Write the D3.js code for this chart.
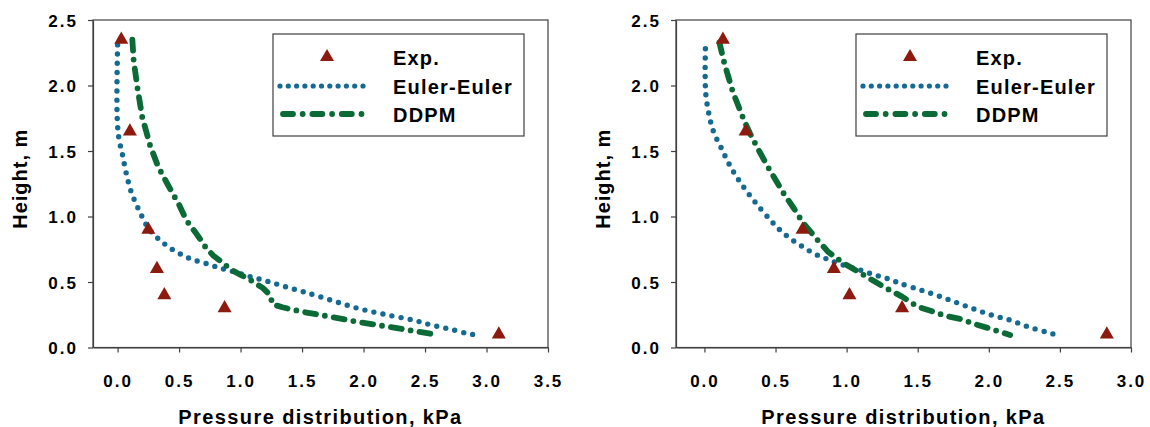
<!DOCTYPE html>
<html>
<head>
<meta charset="utf-8">
<script src="https://cdn.jsdelivr.net/npm/d3@7"></script>
<style>
  body { margin: 0; background: #fff; }
  svg { display: block; }
  text { font-family: "Liberation Sans", Arial, sans-serif; font-weight: bold; fill: #000; }
</style>
</head>
<body>
<svg id="chart" width="1150" height="427"></svg>
<script>
// ---- data -------------------------------------------------------------
const heightTicks = [0, 0.5, 1.0, 1.5, 2.0, 2.5];
const pressureTicksA = [0, 0.5, 1.0, 1.5, 2.0, 2.5, 3.0, 3.5];
const pressureTicksB = [0, 0.5, 1.0, 1.5, 2.0, 2.5, 3.0];
const seriesNames = ["Exp.", "Euler-Euler", "DDPM"];
const xTitle = "Pressure distribution, kPa";
const yTitle = "Height, m";

// measured points (height, m)
const expHeight = [2.35, 1.65, 0.9, 0.6, 0.4, 0.3, 0.1];
const expPressureA = [0.03, 0.10, 0.25, 0.32, 0.38, 0.87, 3.10];
const expPressureB = [0.13, 0.29, 0.69, 0.91, 1.02, 1.39, 2.83];

// Euler-Euler simulation, case A: [pressure, height]
const eulerA = [
  [0.00, 2.31], [-0.005, 2.00], [-0.003, 1.75], [0.01, 1.60], [0.04, 1.47],
  [0.07, 1.33], [0.11, 1.19], [0.17, 1.055], [0.21, 0.98], [0.25, 0.91],
  [0.32, 0.84], [0.39, 0.785], [0.46, 0.74], [0.54, 0.70], [0.61, 0.67],
  [0.69, 0.65], [0.77, 0.625], [0.84, 0.605], [0.92, 0.585], [1.06, 0.546],
  [1.21, 0.508], [1.36, 0.465], [1.51, 0.426], [1.73, 0.363], [1.95, 0.30],
  [2.17, 0.253], [2.40, 0.21], [2.55, 0.172], [2.70, 0.141], [2.84, 0.108],
  [2.92, 0.095]
];
// DDPM simulation, case A
const ddpmA = [
  [0.12, 2.35], [0.13, 2.20], [0.16, 1.99], [0.20, 1.76], [0.265, 1.54],
  [0.33, 1.38], [0.41, 1.24], [0.50, 1.09], [0.56, 0.97], [0.64, 0.87],
  [0.72, 0.76], [0.78, 0.70], [0.85, 0.65], [0.93, 0.59], [1.01, 0.55],
  [1.08, 0.515], [1.18, 0.455], [1.24, 0.40], [1.26, 0.33], [1.34, 0.307],
  [1.50, 0.273], [1.73, 0.235], [1.97, 0.192], [2.20, 0.159], [2.44, 0.121],
  [2.61, 0.095]
];
// Euler-Euler simulation, case B
const eulerB = [
  [0.007, 2.28], [0.005, 2.10], [0.01, 1.93], [0.03, 1.79], [0.063, 1.65],
  [0.122, 1.515], [0.187, 1.373], [0.27, 1.233], [0.368, 1.095], [0.478, 0.956],
  [0.539, 0.889], [0.604, 0.831], [0.672, 0.782], [0.735, 0.739], [0.796, 0.704],
  [0.86, 0.676], [0.925, 0.648], [1.053, 0.604], [1.117, 0.584], [1.183, 0.559],
  [1.25, 0.538], [1.316, 0.515], [1.374, 0.49], [1.506, 0.444], [1.636, 0.398],
  [1.763, 0.347], [1.889, 0.296], [2.018, 0.248], [2.147, 0.21], [2.275, 0.159],
  [2.404, 0.118], [2.47, 0.098]
];
// DDPM simulation, case B
const ddpmB = [
  [0.105, 2.33], [0.14, 2.17], [0.20, 1.95], [0.28, 1.73], [0.32, 1.635],
  [0.38, 1.51], [0.44, 1.39], [0.50, 1.28], [0.555, 1.18], [0.63, 1.06],
  [0.695, 0.95], [0.78, 0.84], [0.87, 0.73], [0.98, 0.643], [1.08, 0.579],
  [1.18, 0.515], [1.28, 0.452], [1.39, 0.388], [1.50, 0.311], [1.59, 0.281],
  [1.70, 0.24], [1.81, 0.215], [1.90, 0.179], [2.00, 0.147], [2.15, 0.095]
];

// ---- styling ----------------------------------------------------------
const colExp = "#8c1a0f";
const colEuler = "#156a92";
const colDdpm = "#0b6a36";
const axisCol = "#404040";

const svg = d3.select("#chart");

const panels = [
  { x0: 93, x1: 548, xMax: 3.5, ticks: pressureTicksA, exp: expPressureA, euler: eulerA, ddpm: ddpmA, legendX: 273 },
  { x0: 676, x1: 1131, xMax: 3.0, ticks: pressureTicksB, exp: expPressureB, euler: eulerB, ddpm: ddpmB, legendX: 856 }
];

const yTop = 20, yBottom = 347.5;
const y = d3.scaleLinear().domain([0, 2.5]).range([yBottom, yTop]);
const fmt = d3.format(".1f");

panels.forEach(p => {
  const x = d3.scaleLinear().domain([-0.2, p.xMax]).range([p.x0, p.x1]);
  const g = svg.append("g");

  // frame
  g.append("rect")
    .attr("x", p.x0).attr("y", yTop)
    .attr("width", p.x1 - p.x0).attr("height", yBottom - yTop)
    .attr("fill", "none").attr("stroke", axisCol).attr("stroke-width", 1.2);

  // y axis
  const ya = g.append("g").attr("transform", `translate(${p.x0},0)`)
    .call(d3.axisLeft(y).tickValues(heightTicks).tickFormat(fmt).tickSize(5).tickSizeOuter(0).tickPadding(10));
  ya.select(".domain").attr("stroke", axisCol).attr("stroke-width", 1.2);
  ya.selectAll(".tick line").attr("stroke", axisCol).attr("stroke-width", 1.2);
  ya.selectAll(".tick text")
    .style("font-family", '"Liberation Sans", Arial, sans-serif')
    .style("font-weight", "bold").style("font-size", "17px")
    .style("letter-spacing", "2px").attr("fill", "#000").attr("dy", "0.36em");

  // x axis
  const xa = g.append("g").attr("transform", `translate(0,${yBottom})`)
    .call(d3.axisBottom(x).tickValues(p.ticks).tickFormat(fmt).tickSize(5).tickSizeOuter(0));
  xa.select(".domain").attr("stroke", axisCol).attr("stroke-width", 1.2);
  xa.selectAll(".tick line").attr("stroke", axisCol).attr("stroke-width", 1.2);
  xa.selectAll(".tick text")
    .style("font-family", '"Liberation Sans", Arial, sans-serif')
    .style("font-weight", "bold").style("font-size", "17px")
    .style("letter-spacing", "2px").attr("fill", "#000")
    .attr("y", 39.5).attr("dy", 0);

  // axis titles
  g.append("text")
    .attr("x", (p.x0 + p.x1) / 2).attr("y", 424)
    .attr("text-anchor", "middle")
    .style("font-size", "20px").style("letter-spacing", "1.4px")
    .text(xTitle);
  g.append("text")
    .attr("transform", `translate(${p.x0 - 66},${(yTop + yBottom) / 2 - 5}) rotate(-90)`)
    .attr("text-anchor", "middle")
    .style("font-size", "20px").style("letter-spacing", "1px")
    .text(yTitle);

  // simulation curves
  const lineFor = curve => d3.line().x(d => x(d[0])).y(d => y(d[1])).curve(curve);

  g.append("path").datum(p.euler)
    .attr("d", lineFor(d3.curveCatmullRom.alpha(0.5)))
    .attr("fill", "none").attr("stroke", colEuler).attr("stroke-width", 5.4)
    .attr("stroke-linecap", "round").attr("stroke-dasharray", "0 9.2");

  g.append("path").datum(p.ddpm)
    .attr("d", lineFor(d3.curveLinear))
    .attr("fill", "none").attr("stroke", colDdpm).attr("stroke-width", 5.8)
    .attr("stroke-linecap", "round").attr("stroke-linejoin", "round")
    .attr("stroke-dasharray", "11 9 0 9");

  // measured points
  const tri = d3.symbol().type(d3.symbolTriangle).size(85);
  g.selectAll("path.exp").data(expHeight.map((h, i) => [p.exp[i], h]))
    .join("path").attr("class", "exp")
    .attr("transform", d => `translate(${x(d[0])},${y(d[1])})`)
    .attr("d", tri).attr("fill", colExp);

  // legend
  const lx = p.legendX, ly = 34;
  const lg = g.append("g");
  lg.append("rect")
    .attr("x", lx).attr("y", ly).attr("width", 251).attr("height", 102)
    .attr("fill", "#fff").attr("stroke", axisCol).attr("stroke-width", 1.2);
  const rowY = [ly + 23, ly + 52, ly + 80];
  lg.append("path")
    .attr("transform", `translate(${lx + 54},${rowY[0]})`)
    .attr("d", tri).attr("fill", colExp);
  lg.append("line")
    .attr("x1", lx + 7).attr("x2", lx + 95).attr("y1", rowY[1]).attr("y2", rowY[1])
    .attr("stroke", colEuler).attr("stroke-width", 5.2)
    .attr("stroke-linecap", "round").attr("stroke-dasharray", "0 8.3");
  lg.append("line")
    .attr("x1", lx + 10).attr("x2", lx + 94).attr("y1", rowY[2]).attr("y2", rowY[2])
    .attr("stroke", colDdpm).attr("stroke-width", 5.8)
    .attr("stroke-linecap", "round").attr("stroke-dasharray", "10 9.7 0 9.7");
  seriesNames.forEach((name, i) => {
    lg.append("text")
      .attr("x", lx + 120).attr("y", rowY[i] + 7.5)
      .style("font-size", "20px").style("letter-spacing", "1.2px")
      .text(name);
  });
});
</script>
</body>
</html>
